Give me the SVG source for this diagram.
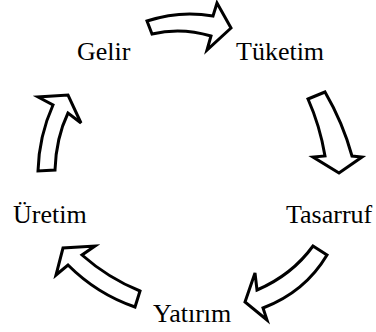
<svg xmlns="http://www.w3.org/2000/svg" width="376" height="332" viewBox="0 0 376 332">
<style>
.lbl{font-family:"Liberation Serif","Times New Roman",serif;font-size:26px;fill:#000}
.arr{fill:#fff;stroke:#000;stroke-width:3;stroke-linejoin:miter}
</style>
<rect width="376" height="332" fill="#fff"/>
<g id="connectors">
<path class="arr" d="M147,21 Q180,10 213,16 L217,3 L231,28 L207,50 L211,36 Q181,27 152,34 Z"/>
<path class="arr" d="M308,99 L325,92 Q343,123 352,156 L362,157 L339,173 L313,157 L325,156 Q320,126 308,99 Z"/>
<path class="arr" d="M313,246 L327,255 Q305,292 263,308 L267,320 L245,302 L255,273 L257,290 Q292,275 313,246 Z"/>
<path class="arr" d="M140,291 Q108,278 82,255 L95,246 L63,248 L56,275 L68,265 Q97,294 135,307 Z"/>
<path class="arr" d="M38,171 Q39,136 53,105 L38,97 L68,95 L81,123 L68,113 Q56,138 55,170 Z"/>
</g>
<g id="gelir"><text class="lbl" x="77" y="60">Gelir</text></g>
<g id="tuketim"><text class="lbl" x="236" y="60">Tüketim</text></g>
<g id="tasarruf"><text class="lbl" x="286" y="223">Tasarruf</text></g>
<g id="yatirim"><text class="lbl" x="153" y="322">Yatırım</text></g>
<g id="uretim"><text class="lbl" x="13" y="223">Üretim</text></g>
</svg>
